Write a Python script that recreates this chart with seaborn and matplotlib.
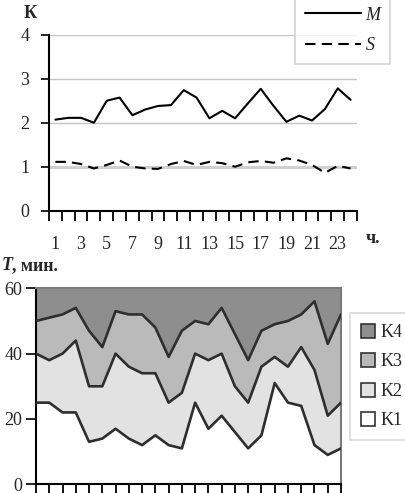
import numpy as np
import pandas as pd
import matplotlib
matplotlib.use("Agg")
import matplotlib.pyplot as plt
import seaborn as sns
from matplotlib.lines import Line2D
from matplotlib.patches import Patch

# ---------------- data ----------------
hours = list(range(1, 25))
hour_labels = [str(h) for h in range(1, 24, 2)]
M = [2.07, 2.11, 2.11, 2.00, 2.50, 2.57, 2.17, 2.30, 2.38, 2.40, 2.74, 2.57,
     2.10, 2.27, 2.10, 2.44, 2.77, 2.38, 2.02, 2.16, 2.05, 2.31, 2.78, 2.52]
S = [1.11, 1.11, 1.06, 0.96, 1.04, 1.14, 1.00, 0.96, 0.95, 1.06, 1.13, 1.04,
     1.11, 1.08, 1.00, 1.10, 1.13, 1.09, 1.19, 1.14, 1.04, 0.86, 1.02, 0.96]
K1 = [25, 25, 22, 22, 13, 14, 17, 14, 12, 15, 12, 11,
      25, 17, 21, 16, 11, 15, 31, 25, 24, 12, 9, 11]
K2 = [15, 13, 18, 22, 17, 16, 23, 22, 22, 19, 13, 17,
      15, 21, 19, 14, 14, 21, 8, 11, 18, 23, 12, 14]
K3 = [10, 13, 12, 10, 17, 12, 13, 16, 18, 14, 14, 19,
      10, 11, 14, 16, 13, 11, 10, 14, 10, 21, 22, 27]
K4 = [10, 9, 8, 6, 13, 18, 7, 8, 8, 12, 21, 13,
      10, 11, 6, 14, 22, 13, 11, 10, 8, 4, 17, 8]
series_names = ["M", "S"]
k_names = ["K1", "K2", "K3", "K4"]
k_colors = ["#ffffff", "#e2e2e2", "#bababa", "#8e8e8e"]

sns.set_theme(style="white")
plt.rcParams["font.family"] = ["Liberation Serif", "DejaVu Serif"]
FS = 13

W, H = 406, 493
fig = plt.figure(figsize=(W / 100, H / 100), dpi=100)

# ---------------- top chart ----------------
ax1 = fig.add_axes([49 / W, 1 - 210.7 / H, 308 / W, 176 / H])
df = pd.DataFrame({"hour": hours * 2, "value": M + S,
                   "series": [series_names[0]] * 24 + [series_names[1]] * 24})
for y in [1, 2, 3, 4]:
    ax1.axhline(y, color="#c4c4c4" if y != 1 else "#d0d0d0",
                lw=1.0 if y != 1 else 2.2, zorder=0)
sns.lineplot(data=df, x="hour", y="value", style="series",
             dashes={"M": "", "S": (5, 3)}, color="black", lw=1.5,
             ax=ax1, legend=False, zorder=3)
ax1.set_xlim(0.5, 24.5)
ax1.set_ylim(0, 4)
ax1.set_xlabel("")
ax1.set_ylabel("")
ax1.set_xticks(range(1, 24, 2))
ax1.set_xticklabels(hour_labels, fontsize=FS)
ax1.set_xticks(np.arange(0.5, 25, 1), minor=True)
ax1.tick_params(axis="x", which="major", length=0, pad=18)
ax1.tick_params(axis="x", which="minor", direction="out", length=7, width=1.3,
                color="black", bottom=True)
ax1.set_yticks([0, 1, 2, 3, 4])
ax1.set_yticklabels(["0", "1", "2", "3", "4"], fontsize=FS)
ax1.tick_params(axis="y", which="major", direction="out", length=6, width=1.2,
                color="black", left=True, pad=8)
for s in ["top", "right"]:
    ax1.spines[s].set_visible(False)
for s in ["left", "bottom"]:
    ax1.spines[s].set_color("black")
    ax1.spines[s].set_linewidth(1.5)
ax1.grid(False)

fig.text(30 / W, 1 - 13 / H, "К", fontsize=FS, fontweight="bold",
         ha="center", va="center")
fig.text(373 / W, 1 - 238 / H, "ч.", fontsize=FS, fontweight="bold",
         ha="center", va="center")

h_top = [Line2D([], [], color="black", lw=1.5),
         Line2D([], [], color="black", lw=1.5, dashes=(5, 3))]
leg1 = fig.legend(h_top, series_names, loc="lower left",
                  bbox_to_anchor=(295 / W, 1 - 64 / H),
                  prop={"style": "italic", "size": FS}, frameon=True,
                  fancybox=False, edgecolor="#c8c8c8", handlelength=3.1,
                  labelspacing=0.75, borderpad=0.55, handletextpad=0.25,
                  borderaxespad=0)
leg1.get_frame().set_linewidth(1.2)

# ---------------- bottom chart ----------------
ax2 = fig.add_axes([36 / W, 1 - 484.3 / H, 305 / W, 196 / H])
ax2.stackplot(hours, K1, K2, K3, K4, colors=k_colors, lw=0, zorder=1)
c1 = np.array(K1)
c2 = c1 + np.array(K2)
c3 = c2 + np.array(K3)
bdf = pd.DataFrame({"hour": hours * 3,
                    "cum": list(c1) + list(c2) + list(c3),
                    "layer": ["c1"] * 24 + ["c2"] * 24 + ["c3"] * 24})
sns.lineplot(data=bdf, x="hour", y="cum", units="layer", estimator=None,
             color="#2e2e2e", lw=1.9, ax=ax2, legend=False, zorder=3)
ax2.set_xlim(1, 24)
ax2.set_ylim(0, 60)
ax2.set_xlabel("")
ax2.set_ylabel("")
ax2.set_xticks(hours)
ax2.set_xticklabels([])
ax2.tick_params(axis="x", direction="out", length=7, width=1.3,
                color="black", bottom=True)
ax2.set_yticks([0, 20, 40, 60])
ax2.set_yticklabels(["0", "20", "40", "60"], fontsize=FS)
ax2.tick_params(axis="y", direction="out", length=7, width=1.2,
                color="black", left=True, pad=3)
for s in ["left", "bottom"]:
    ax2.spines[s].set_color("black")
    ax2.spines[s].set_linewidth(1.5)
for s in ["top", "right"]:
    ax2.spines[s].set_color("#7a7a7a")
    ax2.spines[s].set_linewidth(1.5)
ax2.grid(False)

fig.text(2 / W, 1 - 266 / H, "T", fontsize=FS, fontweight="bold",
         fontstyle="italic", ha="left", va="center")
fig.text(12 / W, 1 - 266 / H, ", мин.", fontsize=FS, fontweight="bold",
         ha="left", va="center")

h_bot = [Patch(facecolor=k_colors[i], edgecolor="#333333", lw=1.2)
         for i in [3, 2, 1, 0]]
leg2 = fig.legend(h_bot, [k_names[i] for i in [3, 2, 1, 0]], loc="upper left",
                  bbox_to_anchor=(350 / W, 1 - 313 / H),
                  prop={"size": FS}, frameon=True, fancybox=False,
                  edgecolor="#d0d0d0", handlelength=0.8, handleheight=0.8,
                  labelspacing=0.68, borderpad=0.6, handletextpad=0.3,
                  borderaxespad=0)
leg2.get_frame().set_linewidth(1.2)

fig.savefig("out.png", dpi=100)
